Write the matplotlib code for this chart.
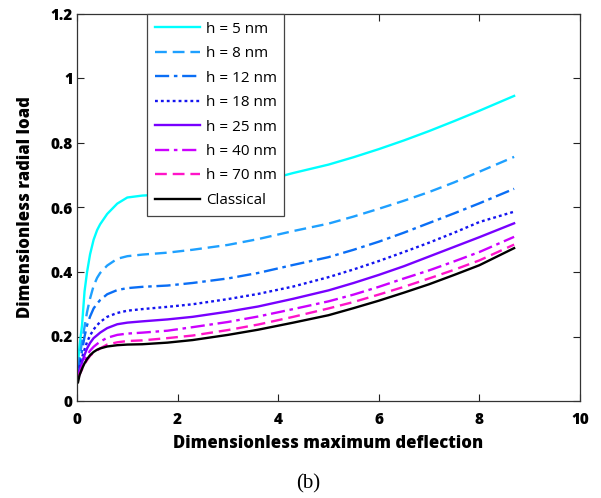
import numpy as np
import matplotlib
matplotlib.use("Agg")
import matplotlib.pyplot as plt

# Dimensionless maximum deflection (sample points along each curve)
deflection = [0.02, 0.05, 0.1, 0.15, 0.2, 0.26, 0.33, 0.4, 0.46, 0.6, 0.8, 1.0,
              1.3, 1.8, 2.3, 3.0, 3.6, 4.3, 5.0, 5.5, 6.0, 6.5, 7.0, 7.5, 8.0, 8.69]

# Dimensionless radial load for each plate thickness
load_5nm = [0.12, 0.17, 0.235, 0.34, 0.40, 0.455, 0.50, 0.53, 0.548, 0.58, 0.612, 0.631,
            0.637, 0.641, 0.647, 0.66, 0.678, 0.707, 0.733, 0.756, 0.781, 0.808, 0.837,
            0.868, 0.90, 0.946]
load_8nm = [0.10, 0.135, 0.183, 0.23, 0.276, 0.318, 0.357, 0.382, 0.397, 0.42, 0.441, 0.449,
            0.454, 0.46, 0.469, 0.484, 0.502, 0.527, 0.55, 0.572, 0.596, 0.621, 0.648,
            0.678, 0.711, 0.757]
load_12nm = [0.09, 0.115, 0.155, 0.20, 0.235, 0.262, 0.287, 0.302, 0.313, 0.331, 0.344, 0.35,
             0.354, 0.358, 0.366, 0.38, 0.397, 0.422, 0.446, 0.469, 0.494, 0.522, 0.552,
             0.582, 0.613, 0.658]
load_18nm = [0.085, 0.105, 0.135, 0.16, 0.183, 0.203, 0.222, 0.235, 0.245, 0.261, 0.273, 0.28,
             0.285, 0.292, 0.30, 0.316, 0.332, 0.355, 0.384, 0.408, 0.434, 0.462, 0.491,
             0.522, 0.555, 0.587]
load_25nm = [0.078, 0.095, 0.12, 0.143, 0.163, 0.18, 0.195, 0.204, 0.212, 0.226, 0.238, 0.243,
             0.247, 0.253, 0.261, 0.277, 0.293, 0.317, 0.343, 0.366, 0.391, 0.418, 0.448,
             0.478, 0.508, 0.551]
load_40nm = [0.072, 0.088, 0.108, 0.127, 0.142, 0.156, 0.168, 0.177, 0.184, 0.196, 0.205, 0.209,
             0.212, 0.218, 0.229, 0.245, 0.262, 0.285, 0.309, 0.33, 0.354, 0.38, 0.405,
             0.433, 0.462, 0.509]
load_70nm = [0.068, 0.082, 0.098, 0.114, 0.127, 0.14, 0.15, 0.157, 0.163, 0.175, 0.182, 0.186,
             0.188, 0.195, 0.203, 0.22, 0.237, 0.261, 0.287, 0.307, 0.33, 0.354, 0.38,
             0.407, 0.436, 0.485]
load_classical = [0.058, 0.08, 0.10, 0.117, 0.13, 0.142, 0.152, 0.159, 0.163, 0.169, 0.173, 0.175,
                  0.176, 0.181, 0.189, 0.205, 0.221, 0.243, 0.266, 0.288, 0.311, 0.336, 0.362,
                  0.391, 0.421, 0.474]

labels = ["h = 5 nm", "h = 8 nm", "h = 12 nm", "h = 18 nm",
          "h = 25 nm", "h = 40 nm", "h = 70 nm", "Classical"]
series = [load_5nm, load_8nm, load_12nm, load_18nm,
          load_25nm, load_40nm, load_70nm, load_classical]
colors = ["#00FFFF", "#1EA0FF", "#0A6EF5", "#1414F0",
          "#7800FF", "#CC00FF", "#FF14C8", "#000000"]
styles = ["-", (0, (5, 2.5)), (0, (6, 2, 1.5, 2)), (0, (1.2, 1.3)),
          "-", (0, (6, 2, 1.5, 2)), (0, (5, 2.5)), "-"]

xticks = [0, 2, 4, 6, 8, 10]
xticklabels = ["0", "2", "4", "6", "8", "10"]
yticks = [0, 0.2, 0.4, 0.6, 0.8, 1.0, 1.2]
yticklabels = ["0", "0.2", "0.4", "0.6", "0.8", "1", "1.2"]

plt.rcParams["font.family"] = ["Open Sans", "DejaVu Sans"]

fig = plt.figure(figsize=(6.01, 4.98), dpi=100)
ax = fig.add_axes([77 / 601, 97 / 498, 503 / 601, 387 / 498])

for y, lab, c, ls in zip(series, labels, colors, styles):
    ax.plot(deflection, y, color=c, linestyle=ls, linewidth=1.7, label=lab)

ax.set_xlim(0, 10)
ax.set_ylim(0, 1.2)
ax.set_xticks(xticks)
ax.set_xticklabels(xticklabels, fontweight="heavy", fontsize=11)
ax.set_yticks(yticks)
ax.set_yticklabels(yticklabels, fontweight="heavy", fontsize=11)
ax.tick_params(direction="in", length=5, width=0.8, top=True, right=True,
               colors="#222222", labelcolor="black")
ax.tick_params(axis="x", pad=8)
ax.tick_params(axis="y", pad=3)
for sp in ax.spines.values():
    sp.set_color("#333333")
    sp.set_linewidth(0.9)

ax.set_xlabel("Dimensionless maximum deflection", fontweight="heavy",
              fontsize=12, labelpad=5)
ax.set_ylabel("Dimensionless radial load", fontweight="heavy",
              fontsize=12, labelpad=12)

leg = ax.legend(loc="upper left", bbox_to_anchor=(0.139, 1.0),
                prop={"family": "Open Sans", "size": 11},
                frameon=True, fancybox=False,
                handlelength=3.0, handletextpad=0.35, labelspacing=0.62,
                borderpad=0.5, borderaxespad=0.0)
leg.get_frame().set_edgecolor("#444444")
leg.get_frame().set_linewidth(0.9)
leg.get_frame().set_alpha(1.0)

fig.text(308 / 601, 1 - 484 / 498, "(b)", ha="center", va="center",
         fontsize=15, family="Liberation Serif")

fig.savefig("out.png", dpi=100)
